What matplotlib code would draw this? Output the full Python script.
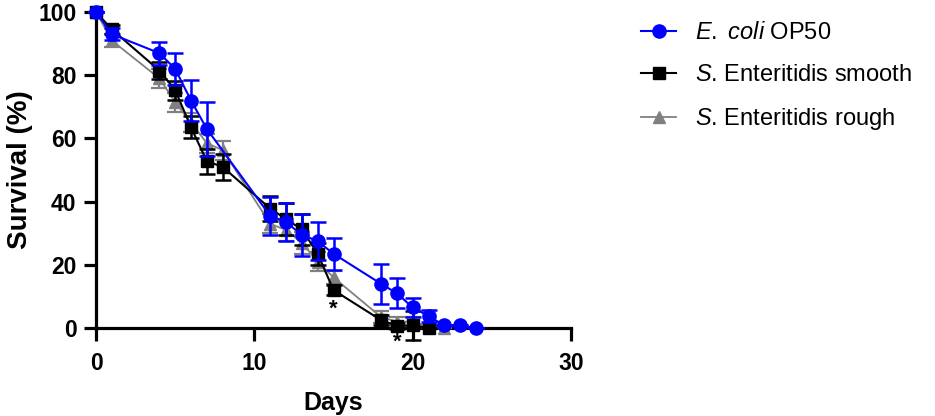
import matplotlib
matplotlib.use('Agg')
import matplotlib.pyplot as plt
import numpy as np

plt.rcParams['font.family'] = ['Liberation Sans', 'DejaVu Sans']
plt.rcParams['mathtext.fontset'] = 'custom'
plt.rcParams['mathtext.it'] = 'Liberation Sans:italic'
plt.rcParams['mathtext.rm'] = 'Liberation Sans'

# data (survival %, SEM)
days_ecoli = [0, 1, 4, 5, 6, 7, 11, 12, 13, 14, 15, 18, 19, 20, 21, 22, 23, 24]
surv_ecoli = [100, 93, 87, 82, 72, 63, 35.5, 33.5, 29.5, 27.5, 23.5, 14, 11, 6.5, 3.8, 0.8, 0.8, 0]
err_ecoli = [0, 2, 3.6, 5, 6.4, 8.4, 6, 6, 6.6, 6, 5, 6.4, 4.7, 3, 2, 0, 0, 0]

days_smooth = [0, 1, 4, 5, 6, 7, 8, 11, 12, 13, 14, 15, 18, 19, 20, 21]
surv_smooth = [100, 94.5, 81.5, 75.3, 63.5, 52.8, 51, 37.8, 34.5, 31.2, 23.5, 12, 2.5, 0.7, 0.8, 0]
err_smooth = [0, 1.5, 2.7, 3, 3.5, 4, 4, 4, 5, 5, 3.5, 1.5, 1.5, 1, 4.5, 0]

days_rough = [0, 1, 4, 5, 6, 7, 8, 11, 12, 13, 14, 15, 18, 19, 20, 21, 22]
surv_rough = [100, 91, 79, 71.5, 65, 58.5, 56.3, 33, 31, 27, 21, 16, 3.5, 2, 2, 0.5, 0]
err_rough = [0, 2, 3, 3, 3, 3, 3, 3, 3.5, 3.5, 3, 2, 2, 1.5, 1.5, 0.5, 0]

labels = ['$\\it{E.}$ $\\it{coli}$ OP50',
          '$\\it{S}$. Enteritidis smooth',
          '$\\it{S}$. Enteritidis rough']

star_pts = [(15, 6), (19, -4.6)]

fig = plt.figure(figsize=(9.35, 4.16), dpi=100)
ax = fig.add_axes([0.1027, 0.2115, 0.508, 0.7595])

cap = 5.5
ax.errorbar(days_rough, surv_rough, yerr=err_rough, color='#808080', marker='^',
            markersize=8, lw=1.3, elinewidth=1.6, capsize=cap, capthick=1.6,
            clip_on=False, zorder=3, label=labels[2])
ax.errorbar(days_smooth, surv_smooth, yerr=err_smooth, color='black', marker='s',
            markersize=8.5, lw=1.5, elinewidth=1.8, capsize=cap, capthick=1.8,
            clip_on=False, zorder=4, label=labels[1])
ax.errorbar(days_ecoli, surv_ecoli, yerr=err_ecoli, color='#0000ff', marker='o',
            markersize=9.5, lw=1.5, elinewidth=1.8, capsize=cap, capthick=1.8,
            clip_on=False, zorder=5, label=labels[0])

for x, y in star_pts:
    ax.text(x, y, '*', ha='center', va='center', fontsize=16, fontweight='bold',
            zorder=10)

ax.set_xlim(0, 30)
ax.set_ylim(0, 100)
ax.set_xticks([0, 10, 20, 30])
ax.set_yticks([0, 20, 40, 60, 80, 100])
for s in ['top', 'right']:
    ax.spines[s].set_visible(False)
for s in ['left', 'bottom']:
    ax.spines[s].set_linewidth(2.3)
ax.tick_params(width=2.3, length=9, labelsize=16.5, pad=5)
ax.tick_params(axis='x', pad=8)
for lab in ax.get_xticklabels() + ax.get_yticklabels():
    lab.set_fontweight('bold')
ax.set_xlabel('Days', fontsize=18, fontweight='bold', labelpad=12)
ax.set_ylabel('Survival (%)', fontsize=20, fontweight='bold', labelpad=4)

h, l = ax.get_legend_handles_labels()
h = [x[0] for x in h[::-1]]
leg = fig.legend(h, l[::-1], loc='upper left', bbox_to_anchor=(0.6856, 0.946),
                 frameon=False, fontsize=17, handlelength=1.5, labelspacing=0.84,
                 handletextpad=0.8, borderpad=0, borderaxespad=0)

fig.savefig('out.png', dpi=100)
